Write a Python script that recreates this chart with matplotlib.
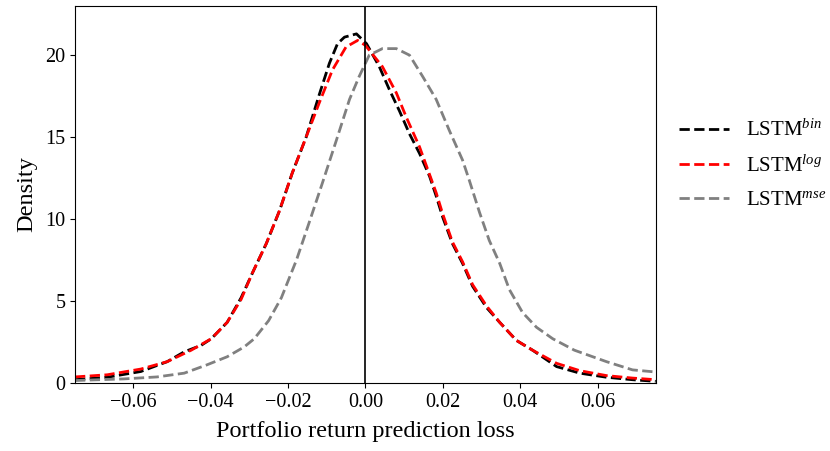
import numpy as np
import matplotlib
matplotlib.use('Agg')
import matplotlib.pyplot as plt

# KDE curves (x: return prediction loss, y: density)
x_bin = [-0.075, -0.0667, -0.058, -0.0512, -0.0468, -0.0424, -0.0398,
         -0.0357, -0.0321, -0.0292, -0.0256, -0.0222, -0.0189, -0.0153,
         -0.0119, -0.0093, -0.0072, -0.0054, -0.0023, 0.0003, 0.0036,
         0.0062, 0.0088, 0.0114, 0.014, 0.0166, 0.0183, 0.020, 0.0225,
         0.0251, 0.0277, 0.0313, 0.0347, 0.039, 0.0432, 0.0494, 0.0554,
         0.0623, 0.069, 0.075]
y_bin = [0.2, 0.35, 0.7, 1.3, 1.9, 2.3, 2.7, 3.7, 5.2, 6.7, 8.5, 10.5, 12.8,
         15.0, 17.6, 19.5, 20.7, 21.1, 21.3, 20.7, 19.3, 17.9, 16.6, 15.2,
         14.0, 12.6, 11.4, 10.1, 8.5, 7.3, 5.9, 4.6, 3.7, 2.6, 2.0, 1.0,
         0.6, 0.35, 0.2, 0.1]

x_log = [-0.075, -0.0667, -0.058, -0.0512, -0.045, -0.0398, -0.0357,
         -0.0321, -0.0292, -0.0256, -0.0222, -0.0189, -0.0153, -0.0119,
         -0.0085, -0.005, -0.002, 0.0, 0.0044, 0.008, 0.0106, 0.014, 0.0183,
         0.020, 0.0225, 0.0251, 0.0277, 0.0313, 0.0347, 0.039, 0.0432,
         0.0494, 0.0554, 0.0623, 0.069, 0.075]
y_log = [0.37, 0.5, 0.85, 1.3, 2.0, 2.7, 3.7, 5.1, 6.7, 8.5, 10.5, 12.8,
         15.0, 17.1, 19.1, 20.5, 20.9, 20.6, 19.3, 17.7, 16.2, 14.4, 11.6,
         10.3, 8.6, 7.4, 6.0, 4.7, 3.7, 2.6, 2.0, 1.2, 0.75, 0.45, 0.3, 0.2]

x_mse = [-0.075, -0.0623, -0.0538, -0.0468, -0.041, -0.0357, -0.0313,
         -0.0287, -0.025, -0.0217, -0.0178, -0.0145, -0.0111, -0.0075,
         -0.0041, -0.0016, 0.001, 0.0044, 0.008, 0.0114, 0.0148, 0.0183,
         0.0217, 0.0251, 0.0268, 0.0295, 0.032, 0.0347, 0.0372, 0.0406,
         0.0442, 0.0484, 0.0540, 0.0623, 0.069, 0.075]
y_mse = [0.15, 0.25, 0.37, 0.6, 1.1, 1.6, 2.2, 2.7, 3.8, 5.2, 7.5, 9.8,
         12.2, 14.8, 17.3, 18.7, 20.0, 20.4, 20.4, 20.0, 18.7, 17.3, 15.4,
         13.6, 12.4, 10.4, 8.7, 7.3, 5.7, 4.3, 3.4, 2.7, 2.0, 1.3, 0.8, 0.67]

plt.rcParams['font.family'] = ['Liberation Serif', 'DejaVu Serif']
plt.rcParams['mathtext.fontset'] = 'custom'
plt.rcParams['mathtext.rm'] = 'Liberation Serif'
plt.rcParams['mathtext.it'] = 'Liberation Serif:italic'

fig = plt.figure(figsize=(8.3, 4.51), dpi=100)
ax = fig.add_axes([0.0904, 0.1508, 0.6996, 0.8359])

ax.plot(x_bin, y_bin, '--', color='black', lw=2, label=r'$\mathrm{LSTM}^{bin}$')
ax.plot(x_log, y_log, '--', color='red', lw=2, label=r'$\mathrm{LSTM}^{log}$')
ax.plot(x_mse, y_mse, '--', color='gray', lw=2, label=r'$\mathrm{LSTM}^{mse}$')
ax.axvline(0, color='black', lw=1.2)

ax.set_xlim(-0.075, 0.075)
ax.set_ylim(0, 23)
ax.set_xticks([-0.06, -0.04, -0.02, 0.0, 0.02, 0.04, 0.06])
ax.set_yticks([0, 5, 10, 15, 20])
ax.tick_params(labelsize=14.5)
ax.set_xlabel('Portfolio return prediction loss', fontsize=17.5, labelpad=7)
ax.set_ylabel('Density', fontsize=17.5, labelpad=6)

ax.legend(loc='center left', bbox_to_anchor=(1.0, 0.578), frameon=False,
          fontsize=15, handlelength=2.4, handletextpad=0.85,
          labelspacing=0.68, borderaxespad=0.7)

fig.savefig('out.png', dpi=100)
